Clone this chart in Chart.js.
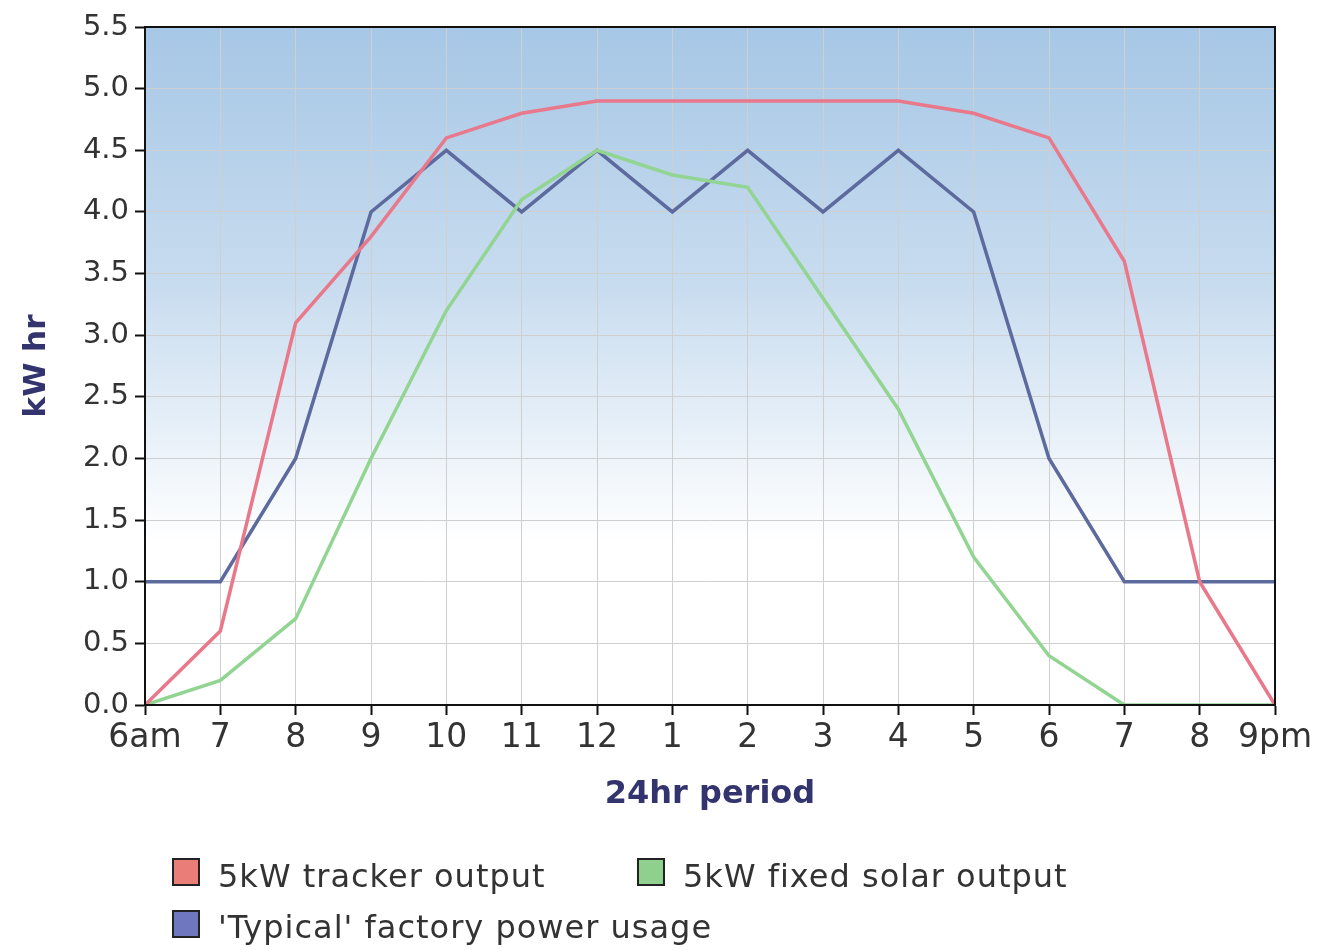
<!DOCTYPE html>
<html>
<head>
<meta charset="utf-8">
<script src="https://cdn.jsdelivr.net/npm/chart.js@4/dist/chart.umd.min.js"></script>
<style>
  body { margin: 0; background: #fff; }
  #wrap { position: relative; width: 1322px; height: 950px; }
  .box { position: absolute; width: 24px; height: 24px; border: 2px solid #222; }
  .txt { position: absolute; font-family: "DejaVu Sans", sans-serif; font-size: 32px; line-height: 32px; letter-spacing: 1px; color: #333; white-space: nowrap; }
</style>
</head>
<body>
<div id="wrap">
  <canvas id="chart1" width="1322" height="950"></canvas>
  <div class="box" style="left:172px; top:858px; background:#eb7d78"></div>
  <div class="txt" style="left:218px; top:860px;">5kW tracker output</div>
  <div class="box" style="left:637px; top:858px; background:#8fd08f"></div>
  <div class="txt" style="left:683px; top:860px;">5kW fixed solar output</div>
  <div class="box" style="left:172px; top:910px; background:#6e78be"></div>
  <div class="txt" style="left:218px; top:911px;">'Typical' factory power usage</div>
</div>
<script>
var hours = ["6am", "7", "8", "9", "10", "11", "12", "1", "2", "3", "4", "5", "6", "7", "8", "9pm"];
var trackerOutput = [0, 0.6, 3.1, 3.8, 4.6, 4.8, 4.9, 4.9, 4.9, 4.9, 4.9, 4.8, 4.6, 3.6, 1.0, 0];
var fixedOutput = [0, 0.2, 0.7, 2.0, 3.2, 4.1, 4.5, 4.3, 4.2, 3.3, 2.4, 1.2, 0.4, 0, 0, 0];
var factoryUsage = [1.0, 1.0, 2.0, 4.0, 4.5, 4.0, 4.5, 4.0, 4.5, 4.0, 4.5, 4.0, 2.0, 1.0, 1.0, 1.0];

// blue fade behind the plot + black frame
var plotBackground = {
  id: "plotBackground",
  beforeDraw: function (chart) {
    var a = chart.chartArea;
    var ctx = chart.ctx;
    var g = ctx.createLinearGradient(0, a.top, 0, a.top + (a.bottom - a.top) * 0.76);
    g.addColorStop(0, "#a6c7e6");
    g.addColorStop(0.5, "#c8dcef");
    g.addColorStop(1, "#ffffff");
    ctx.save();
    ctx.fillStyle = g;
    ctx.fillRect(a.left, a.top, a.right - a.left, a.bottom - a.top);
    ctx.restore();
  },
  afterDraw: function (chart) {
    var a = chart.chartArea;
    var ctx = chart.ctx;
    ctx.save();
    ctx.strokeStyle = "#111";
    ctx.lineWidth = 2;
    ctx.strokeRect(a.left, a.top, a.right - a.left, a.bottom - a.top);
    ctx.restore();
  }
};

var ctx1 = document.getElementById("chart1").getContext("2d");
var chart1 = new Chart(ctx1, {
  type: "line",
  data: {
    labels: hours,
    datasets: [
      { label: "5kW tracker output", data: trackerOutput, borderColor: "#e8788a", borderWidth: 3.5, pointRadius: 0, tension: 0 },
      { label: "5kW fixed solar output", data: fixedOutput, borderColor: "#92d492", borderWidth: 3.5, pointRadius: 0, tension: 0 },
      { label: "'Typical' factory power usage", data: factoryUsage, borderColor: "#5d6a9e", borderWidth: 3.5, pointRadius: 0, tension: 0 }
    ]
  },
  options: {
    responsive: false,
    animation: false,
    layout: { padding: { top: 27, right: 47, bottom: 136, left: 0 } },
    plugins: { legend: { display: false }, tooltip: { enabled: false } },
    scales: {
      x: {
        afterFit: function (s) { s.height = 109; },
        grid: { color: "#cfcfcf", lineWidth: 1, tickColor: "#111", tickLength: 10, tickWidth: 2 },
        border: { color: "#111", width: 2 },
        ticks: { color: "#333", font: { family: "DejaVu Sans", size: 33 }, padding: 4, autoSkip: false, maxRotation: 0 },
        title: { display: true, text: "24hr period", color: "#33336e", font: { family: "DejaVu Sans", size: 32, weight: "bold" }, padding: 0 }
      },
      y: {
        min: 0,
        max: 5.5,
        afterFit: function (s) { s.width = 145; },
        grid: { color: "#cfcfcf", lineWidth: 1, tickColor: "#111", tickLength: 10, tickWidth: 2 },
        border: { color: "#111", width: 2 },
        ticks: { stepSize: 0.5, color: "#333", font: { family: "DejaVu Sans", size: 29 }, padding: 6,
          callback: function (v) { return v.toFixed(1); } },
        title: { display: true, text: "kW hr", color: "#33336e", font: { family: "DejaVu Sans", size: 31, weight: "bold" }, padding: { top: 18, bottom: 0 } }
      }
    }
  },
  plugins: [plotBackground]
});
</script>
</body>
</html>
